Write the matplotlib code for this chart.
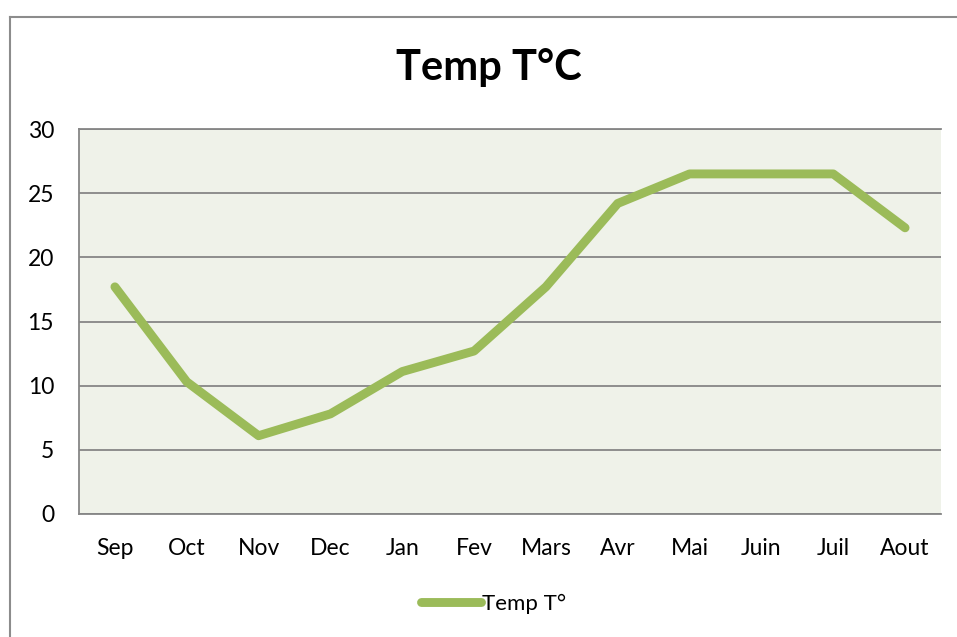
import matplotlib
matplotlib.use("Agg")
import matplotlib.pyplot as plt
from matplotlib.lines import Line2D

plt.rcParams["font.family"] = ["Lato", "DejaVu Sans"]

months = ["Sep", "Oct", "Nov", "Dec", "Jan", "Fev", "Mars", "Avr", "Mai", "Juin", "Juil", "Aout"]
temps = [17.7, 10.3, 6.1, 7.8, 11.1, 12.7, 17.7, 24.2, 26.5, 26.5, 26.5, 22.3]
yticks = [0, 5, 10, 15, 20, 25, 30]
series_name = "Temp T°"
title = "Temp T°C"

green = "#9BBB59"
grid_col = "#868686"

fig = plt.figure(figsize=(9.57, 6.37), dpi=100)
ax = fig.add_axes([79/957, 1-514/637, 862/957, 385/637])
ax.set_facecolor("#EFF2E9")

xs = list(range(len(months)))
ax.plot(xs, temps, color=green, lw=6.4, solid_capstyle="round",
        solid_joinstyle="round", label=series_name, zorder=3)

ax.set_xlim(-0.5, len(months) - 0.5)
ax.set_ylim(0, 30)
ax.set_yticks(yticks)
ax.set_xticks(xs)
ax.set_xticklabels(months)
ax.tick_params(length=0, labelsize=16.5, colors="black", pad=17)
ax.tick_params(axis="y", pad=18)
ax.yaxis.grid(True, color=grid_col, lw=1.3)
ax.set_axisbelow(True)
for s in ["left", "bottom", "top"]:
    ax.spines[s].set_color(grid_col)
    ax.spines[s].set_linewidth(1.3)
ax.spines["right"].set_visible(False)

fig.text(489/957, 1-68/637, title, ha="center", va="center",
         fontsize=30, fontweight="bold")

leg = fig.legend(loc="center", bbox_to_anchor=(494/957, 1-604/637),
                 frameon=False, fontsize=16, handlelength=2.7,
                 handletextpad=0.05)

# outer chart border
fig.add_artist(Line2D([9.5/957, 9.5/957], [0, 1-16.5/637], color="#8C8C8C", lw=1.5))
fig.add_artist(Line2D([9.5/957, 1], [1-16.5/637, 1-16.5/637], color="#8C8C8C", lw=1.5))

fig.savefig("out.png", dpi=100)
